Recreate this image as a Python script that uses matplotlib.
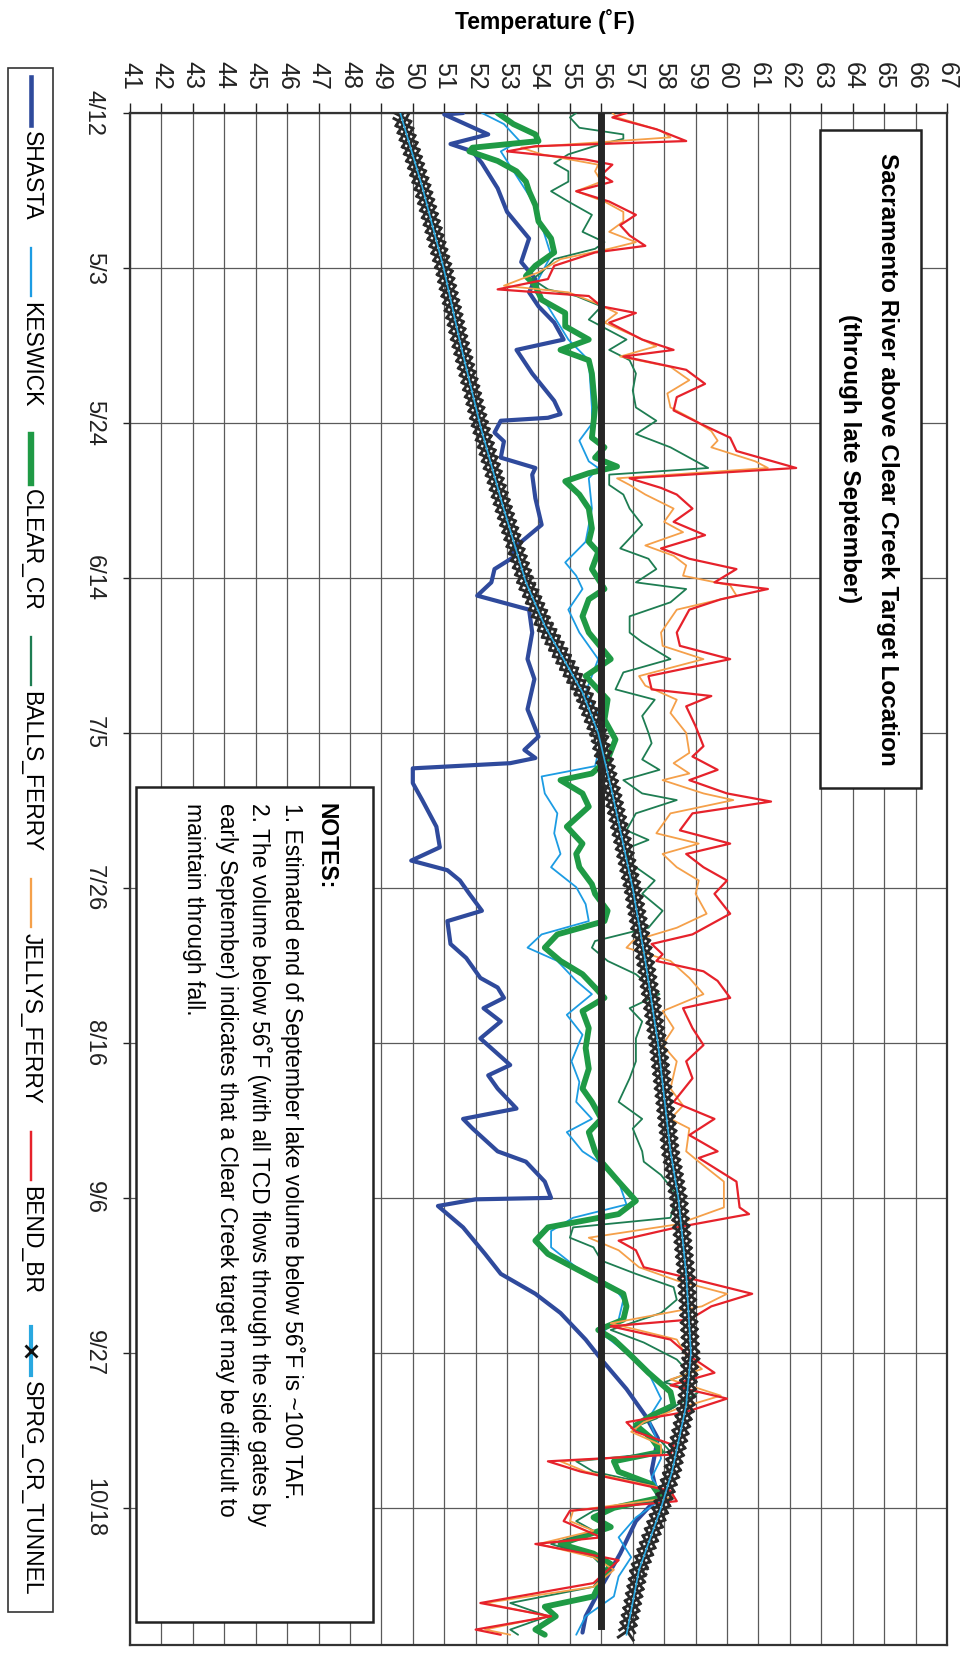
import numpy as np
import matplotlib
matplotlib.use('Agg')
import matplotlib.pyplot as plt
import matplotlib.patheffects as pe
from matplotlib.lines import Line2D
from matplotlib.patches import Rectangle

plt.rcParams['font.family'] = ['Liberation Sans', 'DejaVu Sans']

# --- data (day counted from 4/12, temperature in F) ---
date_labels = ['4/12', '5/3', '5/24', '6/14', '7/5', '7/26', '8/16', '9/6', '9/27', '10/18']
date_days = [0, 21, 42, 63, 84, 105, 126, 147, 168, 189]
temp_ticks = list(range(41, 68))

shasta = [(0, 51.6), (0.2, 51.0), (2.9, 52.4), (4.2, 51.2), (5.2, 51.9), (6.8, 52.2), (10.2, 52.7),
          (13.4, 53.0), (17, 53.7), (20.2, 53.45), (22.5, 53.9), (24.3, 53.7), (26.2, 54.0), (28.4, 54.5),
          (30.7, 54.8), (32.1, 53.3), (35.3, 53.8), (39, 54.5), (40.8, 54.7), (41.3, 54.3), (41.7, 52.8),
          (43.3, 52.6), (44.5, 52.9), (46.7, 52.8), (48.1, 53.9), (49, 53.8), (52.2, 53.9), (55.8, 54.1),
          (59, 53.2), (60.2, 53.2), (61.8, 52.6), (63.6, 52.5), (65.4, 52.05), (67.3, 53.7), (70.4, 53.8),
          (74, 53.65), (76.7, 53.87), (80.8, 53.65), (84.5, 54.0), (86.3, 53.55), (87.4, 53.9), (88.1, 53.1),
          (88.8, 50.0), (90.8, 50.0), (93.1, 50.3), (96.7, 50.75), (99.5, 50.86), (101.3, 49.95), (102.6, 51.1),
          (104, 51.5), (105.8, 51.8), (108.1, 52.2), (109.5, 51.1), (112.6, 51.2), (114.5, 51.7), (117.2, 52.15),
          (118.5, 52.7), (119.9, 52.9), (121.3, 52.25), (123.1, 52.8), (125.4, 52.15), (129, 53.1), (130.4, 52.4),
          (132.2, 52.7), (134.9, 53.3), (136.3, 51.6), (137.6, 51.9), (140.7, 52.7), (142.1, 53.6), (144.8, 54.2),
          (147, 54.4), (147.2, 52.0), (148.1, 50.8), (151, 51.6), (154.6, 52.3), (157.3, 52.8), (160, 53.9),
          (162.6, 54.7), (166.2, 55.5), (168.9, 56.0), (172.9, 56.8), (176.5, 57.4), (179.6, 57.8), (184, 57.6),
          (187.6, 57.8), (190.8, 57.1), (195.2, 56.6), (199.7, 56.0), (203.7, 55.5), (205.9, 55.4)]

keswick = [(0, 52.2), (1.5, 52.9), (3.8, 53.4), (5.2, 52.8), (12.5, 53.9), (19.3, 54.4), (22.5, 54.0),
           (24.3, 53.9), (26.2, 54.3), (30.7, 54.95), (33.5, 55.6), (39.9, 55.7), (42.1, 55.7), (44.4, 55.3),
           (47.2, 55.6), (48.1, 55.9), (49.5, 55.6), (53.6, 55.7), (58.1, 55.5), (60.9, 54.85), (62.7, 55.2),
           (64.5, 55.4), (67.3, 54.95), (70.4, 55.3), (74, 55.9), (78.5, 55.5), (83, 56.1), (88.5, 55.8),
           (89.9, 54.1), (92.2, 54.2), (94.9, 54.6), (97.6, 54.5), (100.4, 54.7), (102.2, 54.4), (104.9, 55.2),
           (107.2, 55.5), (109.5, 55.6), (111.3, 54.1), (113.1, 53.65), (114.9, 54.6), (117.6, 55.2),
           (119.4, 55.7), (122.2, 54.9), (124.9, 55.4), (128.5, 55.05), (131.3, 55.3), (134, 55.2), (136.3, 55.7),
           (138.1, 54.9), (140.7, 55.4), (142.1, 55.9), (144.8, 56.55), (147.9, 56.8), (149.7, 55.1),
           (151.5, 54.4), (153.7, 54.4), (156.4, 55.2), (159.1, 56.4), (160.8, 56.7), (163.5, 56.55), (165.3, 56.0),
           (168, 56.8), (170.7, 57.5), (174.2, 57.9), (176.9, 57.5), (179.6, 57.75), (182.3, 57.9), (184.9, 57.6),
           (187.6, 58.0), (190.3, 57.1), (193, 56.55), (195.7, 56.95), (198.3, 56.55), (201, 56.4), (203.7, 55.5),
           (206.2, 55.2)]

clear_cr = [(0, 52.7), (1.5, 53.2), (2.9, 53.9), (3.8, 54.0), (4.7, 51.9), (5.2, 51.8), (6.5, 52.7), (7.9, 53.3),
            (9.3, 53.6), (10.6, 53.7), (12.5, 53.9), (14.7, 54.0), (17, 54.4), (18.9, 54.5), (20.7, 53.9),
            (22.1, 53.6), (23.4, 53.9), (25.3, 54.1), (27.1, 54.85), (28.9, 54.85), (30.7, 55.6), (32.1, 54.7),
            (33.5, 55.6), (35.3, 55.7), (39.9, 55.8), (44, 55.7), (45.3, 56.1), (46.7, 55.8), (47.9, 56.5),
            (48.8, 55.6), (49.9, 54.85), (51.7, 55.3), (53.6, 55.6), (56.3, 55.7), (58.1, 55.6), (59.5, 55.9),
            (61.8, 55.7), (64.5, 56.1), (65.9, 55.6), (68.2, 55.4), (70.4, 55.6), (74, 56.3), (76.3, 55.5),
            (79.5, 56.2), (82.2, 56.1), (84.9, 56.45), (87.6, 56.2), (89.5, 55.7), (90.4, 54.7), (92.2, 55.4),
            (94, 55.6), (96.7, 54.9), (99, 55.4), (100.4, 55.2), (102.2, 55.3), (104.5, 55.7), (105.8, 55.8),
            (108.1, 56.2), (109.5, 56.1), (111.3, 54.6), (113.1, 54.2), (114.9, 54.7), (116.7, 55.4), (118.5, 55.8),
            (119.9, 56.1), (121.7, 55.4), (124, 55.6), (126.7, 55.5), (129.5, 55.6), (132.2, 55.4), (134, 55.7),
            (136.3, 56.0), (138.1, 55.6), (140.7, 55.8), (142.1, 56.0), (144.8, 56.55), (147.4, 57.1),
            (149.2, 56.55), (151, 54.3), (152.8, 53.9), (154.6, 54.3), (156.4, 55.1), (158.2, 55.9), (160, 56.7),
            (161.7, 56.8), (163.5, 56.7), (164.9, 55.9), (166.2, 56.4), (168.4, 56.95), (170.7, 57.5),
            (173.3, 58.2), (175.1, 58.3), (176.5, 57.6), (177.8, 57.1), (179.6, 57.6), (181.4, 57.9), (182.7, 56.4),
            (184.1, 56.55), (185.8, 57.6), (187.6, 57.9), (189, 56.4), (190.3, 55.75), (191.6, 56.3), (193.9, 54.7),
            (195.2, 55.75), (196.6, 56.3), (198.8, 56.0), (201, 55.75), (202.4, 54.2), (203.7, 54.55),
            (205.5, 53.9), (206.2, 54.2)]

balls_ferry = [(0, 55.2), (0.6, 55.0), (2, 55.3), (2.9, 56.7), (3.5, 56.7), (4.2, 56.0), (5.6, 54.95), (6.8, 54.5),
               (7.9, 54.95), (9.3, 54.95), (10.6, 54.4), (12, 54.95), (13.8, 55.7), (16.1, 55.4), (17.5, 56.1),
               (18.4, 55.8), (19.8, 54.5), (21.6, 54.1), (22.5, 53.8), (23.9, 54.3), (24.8, 55.2), (26.2, 56.0),
               (28, 55.6), (28.9, 56.0), (30.7, 56.8), (32.1, 56.25), (33.5, 56.9), (35.3, 57.1), (37.6, 57.0),
               (39.9, 57.1), (41.7, 57.75), (43.5, 57.1), (45.3, 58.2), (48.1, 59.4), (49, 56.25), (50.4, 56.25),
               (51.7, 56.7), (53.6, 56.9), (55.8, 57.3), (58.1, 56.8), (59, 56.6), (60.4, 57.5), (61.8, 57.75),
               (63.6, 57.1), (64.5, 58.7), (66.3, 58.2), (68.2, 56.9), (70.4, 56.9), (71.7, 57.3), (74, 58.2),
               (75.8, 56.7), (78.1, 56.45), (79.5, 57.7), (81.7, 57.3), (84, 57.5), (85.4, 57.6), (87.6, 57.3),
               (89, 57.85), (90.4, 56.7), (92.2, 57.3), (93.1, 58.4), (94.9, 57.1), (97.2, 56.8), (98.5, 57.5),
               (99.5, 56.9), (101.3, 56.8), (104, 57.7), (105.8, 57.3), (108.1, 57.95), (110.4, 57.5), (112.2, 55.8),
               (113.1, 55.7), (114.9, 56.2), (116.7, 57.1), (119.4, 57.85), (121.3, 56.9), (123.1, 57.3),
               (125.4, 57.1), (128.5, 57.1), (130.8, 56.9), (134, 56.55), (136.3, 57.3), (137.6, 57.0),
               (140.7, 57.3), (142.1, 57.35), (143.9, 57.9), (146.6, 58.4), (149.7, 58.2), (151, 55.1), (152.4, 55.0),
               (153.7, 55.75), (155.5, 56.0), (157.3, 57.1), (159.1, 58.3), (160.8, 58.4), (162.6, 57.9),
               (164.9, 56.3), (166.6, 57.35), (168.9, 58.4), (170.7, 58.8), (172, 58.0), (173.3, 59.1), (175.1, 58.4),
               (176.9, 57.75), (178.2, 56.95), (180, 57.9), (181.4, 58.2), (182.7, 55.2), (184.1, 55.75),
               (185.8, 57.6), (187.6, 58.3), (189.4, 55.75), (190.8, 55.2), (192.1, 55.75), (193.9, 54.4),
               (195.7, 55.75), (197.4, 56.15), (199.7, 55.75), (201.9, 53.1), (203.7, 54.3), (205.5, 53.1),
               (206.2, 53.35)]

jellys_ferry = [(0, 56.35), (0.6, 56.5), (2.4, 57.9), (3.3, 58.2), (4.7, 53.45), (5.6, 54.1), (7, 55.9), (7.9, 55.8),
                (9.3, 56.0), (10.6, 55.2), (12, 56.1), (13.4, 56.7), (14.7, 56.7), (16.1, 56.25), (17.5, 57.1),
                (18.4, 56.25), (19.8, 54.7), (21.6, 54.0), (23.4, 52.9), (24.3, 54.95), (25.7, 55.8), (27.1, 56.5),
                (28.4, 56.1), (30.3, 57.1), (31.6, 57.75), (33, 56.6), (34.4, 58.2), (36.2, 58.8), (38, 58.1),
                (39.9, 58.2), (41.7, 59.0), (43.1, 59.5), (44.4, 59.7), (45.3, 59.5), (47.2, 60.9), (48.1, 61.3),
                (49.5, 56.5), (50.4, 56.9), (51.7, 57.4), (53.6, 58.3), (55.4, 58.0), (56.8, 58.6), (58.6, 57.4),
                (60, 58.3), (61.3, 58.7), (62.7, 58.6), (64, 60.1), (65.4, 60.3), (67.3, 58.4), (70.4, 57.9),
                (72.2, 57.95), (74, 59.25), (76.3, 57.2), (77.6, 57.4), (79.5, 58.4), (81.3, 58.2), (84, 58.7),
                (86.7, 58.8), (88.1, 58.3), (89.5, 58.8), (90.4, 57.95), (92.2, 59.25), (93.1, 60.2), (94.9, 58.2),
                (97.6, 57.75), (99, 59.1), (100.4, 57.95), (102.2, 58.4), (104, 59.1), (105.8, 59.0), (108.5, 59.35),
                (110.4, 58.4), (112.2, 57.0), (113.1, 56.8), (114.9, 58.2), (117.2, 58.8), (119.4, 59.25),
                (121.7, 57.95), (124, 58.3), (126.3, 57.95), (128.5, 58.4), (132.2, 58.2), (134.5, 58.6),
                (136.3, 58.2), (137.6, 58.8), (140.7, 58.7), (142.1, 59.1), (144.8, 59.9), (148.3, 59.9),
                (150.6, 58.4), (152.4, 55.6), (154.1, 56.55), (156.4, 57.2), (158.2, 58.4), (160, 60.0),
                (161.7, 59.2), (164, 56.3), (166.2, 58.4), (168.4, 58.7), (170.2, 59.2), (171.6, 58.2), (173.8, 59.8),
                (175.6, 58.4), (177.4, 57.35), (178.7, 56.95), (180.5, 57.9), (181.8, 57.9), (182.7, 54.7),
                (184.1, 55.5), (186.3, 57.9), (187.6, 58.3), (189.4, 55.1), (190.8, 55.0), (192.1, 55.75),
                (193.9, 54.0), (195.7, 55.75), (197.4, 56.4), (199.7, 55.75), (201.9, 52.3), (203.7, 54.3),
                (205.5, 52.3), (206.2, 53.1)]

bend_br = [(0, 56.8), (0.6, 56.35), (2.2, 57.75), (3.8, 58.7), (4.5, 53.9), (5.2, 53.0), (6.3, 55.5), (7, 56.35),
           (8.4, 56.0), (9.3, 56.35), (10.6, 55.2), (12, 56.25), (13.8, 57.1), (15.2, 56.6), (16.6, 56.9), (18, 57.4),
           (18.9, 55.8), (20.7, 54.5), (22.5, 54.3), (23.9, 52.7), (24.8, 55.6), (26.2, 56.0), (27.1, 57.1),
           (28.4, 56.25), (30.7, 57.3), (32.1, 58.3), (33, 56.7), (34.8, 58.7), (36.7, 59.3), (38.5, 58.4),
           (40.3, 58.3), (42.1, 59.15), (44, 60.1), (45.8, 60.3), (48.1, 62.2), (49.5, 56.9), (50.8, 57.9),
           (51.7, 58.4), (53.6, 58.9), (55.4, 58.3), (57.2, 59.3), (59, 57.9), (60.4, 58.8), (61.8, 60.3),
           (63.6, 59.6), (64.5, 61.3), (65.9, 59.8), (67.3, 58.8), (70.4, 58.4), (72.2, 58.5), (74, 60.1),
           (76.3, 57.5), (78.1, 57.6), (79, 59.5), (80.4, 58.7), (83.1, 59.0), (85.8, 59.25), (87.2, 58.9),
           (89, 59.7), (90.4, 58.8), (92.2, 60.0), (93.3, 61.4), (94.9, 58.9), (97.2, 58.5), (99, 60.1),
           (100.4, 58.7), (102.2, 59.25), (104, 60.0), (105.8, 59.6), (108.5, 60.1), (111.3, 58.9), (112.6, 57.6),
           (114, 57.95), (114.9, 57.75), (116.3, 59.25), (117.6, 59.7), (119.9, 60.1), (121.3, 58.6), (124, 58.9),
           (126.3, 59.25), (128.5, 58.7), (130.8, 58.9), (134, 58.3), (136.3, 59.6), (138.5, 58.8), (140.7, 59.7),
           (141.6, 59.1), (144.8, 60.3), (148.3, 60.4), (149.2, 60.7), (151, 58.4), (152.8, 56.55), (154.1, 57.1),
           (156.4, 57.35), (158.2, 59.1), (160, 60.8), (161.7, 59.5), (163.5, 58.8), (164.4, 56.3), (166.2, 58.2),
           (168.4, 58.8), (170.7, 59.6), (172.4, 58.2), (174.2, 60.0), (176, 58.7), (177.4, 56.8), (178.7, 57.1),
           (180.5, 58.3), (181.8, 58.2), (182.7, 54.3), (184.1, 55.35), (186.7, 58.2), (188.1, 58.4), (189.4, 55.0),
           (190.8, 54.8), (193, 56.0), (193.9, 53.9), (195.2, 55.5), (196.1, 56.55), (199.2, 55.75),
           (201.9, 52.15), (203.7, 54.4), (205.5, 52.0), (206.2, 52.8)]

sprg_cr_tunnel = [(0, 49.6), (10, 50.3), (21, 50.98), (31, 51.5), (42.4, 52.15), (53, 52.85), (63.6, 53.6),
                  (69.5, 54.2), (74, 54.8), (78.5, 55.4), (84, 55.9), (92.2, 56.35), (105.1, 57.0), (114.9, 57.4),
                  (126, 57.8), (140.7, 58.2), (147, 58.45), (157.3, 58.7), (168, 58.85), (175.1, 58.7),
                  (184.1, 58.25), (189, 57.9), (197.4, 57.2), (206.2, 56.8)]

target_56 = [(0, 56.0), (205, 56.0)]

series_names = ['SHASTA', 'KESWICK', 'CLEAR_CR', 'BALLS_FERRY', 'JELLYS_FERRY', 'BEND_BR', 'SPRG_CR_TUNNEL']

# --- figure, pixel helpers ---
W, H = 967, 1653
fig = plt.figure(figsize=(W / 100, H / 100), dpi=100)


def fx(px):
    return px / W


def fy(py):
    return 1 - py / H


ax_left, ax_right, ax_top, ax_bot = 130, 947, 113, 1645
day_max = (ax_bot - ax_top) / 7.38
ax = fig.add_axes([fx(ax_left), fy(ax_bot), fx(ax_right) - fx(ax_left), fy(ax_top) - fy(ax_bot)])


def xy(pairs):
    a = np.array(pairs)
    return a[:, 1], a[:, 0]


styles = {
    'SHASTA': dict(color='#2f4a9c', lw=3.0),
    'KESWICK': dict(color='#1c9ce3', lw=1.3),
    'CLEAR_CR': dict(color='#1f9a45', lw=4.2),
    'BALLS_FERRY': dict(color='#1e7d52', lw=1.3),
    'JELLYS_FERRY': dict(color='#f5a04a', lw=1.3),
    'BEND_BR': dict(color='#e6222b', lw=1.6),
}
data = {'SHASTA': shasta, 'KESWICK': keswick, 'CLEAR_CR': clear_cr, 'BALLS_FERRY': balls_ferry,
        'JELLYS_FERRY': jellys_ferry, 'BEND_BR': bend_br}

for name in ['SHASTA', 'KESWICK', 'CLEAR_CR', 'BALLS_FERRY', 'JELLYS_FERRY', 'BEND_BR']:
    x, y = xy(data[name])
    ax.plot(x, y, solid_joinstyle='round', solid_capstyle='round', zorder=3, **styles[name])

x, y = xy(target_56)
ax.plot(x, y, color='#262626', lw=5, zorder=4)

# spring creek tunnel: light blue line buried under dense x markers (drawn as crossed ticks)
rope = '#2a2a2a'
ticks = [pe.TickedStroke(spacing=5.3, angle=a, length=1.45, linewidth=2.1, foreground=rope)
         for a in (45, 135, -45, -135)]
x, y = xy(sprg_cr_tunnel)
ax.plot(x, y, color='#29a8e0', lw=1.2, zorder=5, path_effects=ticks + [pe.Normal()])

ax.set_xlim(41, 67)
ax.set_ylim(day_max, 0)
ax.xaxis.tick_top()
ax.set_xticks(temp_ticks)
ax.set_xticklabels([str(t) for t in temp_ticks], rotation=-90, fontsize=18, va='bottom', ha='center')
ax.set_yticks(date_days)
ax.set_yticklabels(date_labels, rotation=-90, fontsize=17, va='center', ha='right')
ax.tick_params(axis='x', direction='out', length=7, width=1, pad=10, colors='#222')
ax.tick_params(axis='y', direction='out', length=5, width=1, pad=13, colors='#222')
ax.grid(True, color='#5a5a5a', lw=0.9)
for s in ax.spines.values():
    s.set_color('#333333')
    s.set_linewidth(1.6)

fig.text(fx(545), fy(22), 'Temperature (\u02daF)', ha='center', va='center', fontsize=16.5, fontweight='bold')

# title box (inside plot, right side)
fig.add_artist(Rectangle((fx(820), fy(788)), fx(921) - fx(820), fy(130) - fy(788), transform=fig.transFigure,
                         facecolor='white', edgecolor='#222', lw=1.8, zorder=6))
fig.text(fx(888), fy(459), 'Sacramento River above Clear Creek Target Location', rotation=-90,
         ha='center', va='center', fontsize=17.5, fontweight='bold', zorder=7)
fig.text(fx(850), fy(459), '(through late September)', rotation=-90,
         ha='center', va='center', fontsize=17.5, fontweight='bold', zorder=7)

# notes box (inside plot, bottom left)
fig.add_artist(Rectangle((fx(136), fy(1622)), fx(373) - fx(136), fy(787) - fy(1622), transform=fig.transFigure,
                         facecolor='white', edgecolor='#222', lw=1.8, zorder=6))
notes = ['1. Estimated end of September lake volume below 56\u02daF is ~100 TAF.',
         '2. The volume below 56\u02daF (with all TCD flows through the side gates by',
         'early September) indicates that a Clear Creek target may be difficult to',
         'maintain through fall.']
fig.text(fx(326), fy(803), 'NOTES:', rotation=-90, ha='center', va='top', fontsize=16.5,
         fontweight='bold', zorder=7)
for i, line in enumerate(notes):
    fig.text(fx(292 - 33 * i), fy(803), line, rotation=-90, ha='center', va='top', fontsize=16.5, zorder=7)

# legend (left side, rotated)
fig.add_artist(Rectangle((fx(8), fy(1612)), fx(53) - fx(8), fy(68) - fy(1612), transform=fig.transFigure,
                         facecolor='white', edgecolor='#333', lw=1.2, zorder=6))
leg_start = [77, 248, 435, 637, 879, 1132, 1327]
leg_x = 31
for name, y0 in zip(series_names, leg_start):
    if name == 'SPRG_CR_TUNNEL':
        fig.add_artist(Line2D([fx(leg_x)] * 3, [fy(y0), fy(y0 + 24), fy(y0 + 48)], transform=fig.transFigure,
                              color='#29a8e0', lw=3, marker='x', markevery=[1], ms=9, mec='#111', mew=2, zorder=7))
    else:
        st = styles[name]
        fig.add_artist(Line2D([fx(leg_x)] * 2, [fy(y0), fy(y0 + 48)], transform=fig.transFigure,
                              color=st['color'], lw=max(st['lw'], 1.5) * 1.1, zorder=7))
    fig.text(fx(leg_x), fy(y0 + 54), name, rotation=-90, ha='center', va='top', fontsize=16.5, zorder=7)

fig.savefig('out.png', dpi=100)
